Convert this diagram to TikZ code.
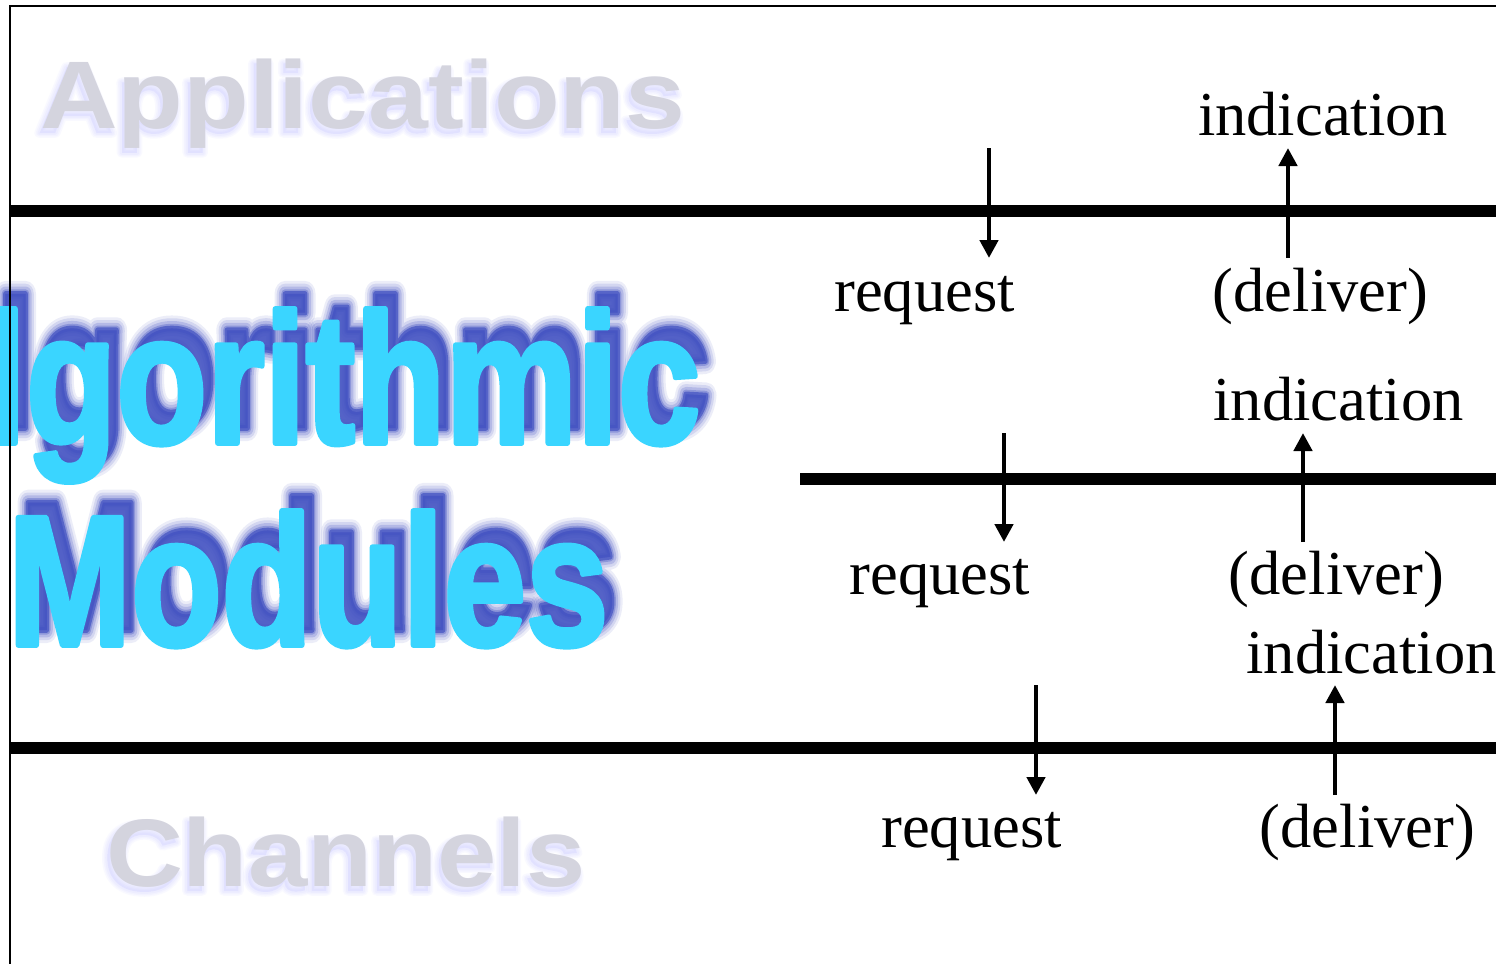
\documentclass[tikz,border=0pt]{standalone}
\usepackage{fontspec}
\setmainfont{Liberation Serif}
% layer captions and their soft halo
\newfontfamily\labelfont{Liberation Sans Bold}
\newfontfamily\labelhaloA{Liberation Sans Bold}[FakeBold=4]
\newfontfamily\labelhaloB{Liberation Sans Bold}[FakeBold=7]
\newfontfamily\labelhaloC{Liberation Sans Bold}[FakeBold=10]
% heavy banner face and widened copies for the drop shadow
\newfontfamily\heavyfont{Liberation Sans Bold}[FakeBold=3]
\newfontfamily\heavyhaloA{Liberation Sans Bold}[FakeBold=5]
\newfontfamily\heavyhaloB{Liberation Sans Bold}[FakeBold=8]
\newfontfamily\heavyhaloC{Liberation Sans Bold}[FakeBold=11]
\newfontfamily\heavyhaloD{Liberation Sans Bold}[FakeBold=14]
\usetikzlibrary{arrows.meta}

\definecolor{skycyan}{RGB}{58,213,255}
\definecolor{shadowblue}{RGB}{70,85,195}
\definecolor{mistgray}{RGB}{212,212,222}
\definecolor{mistglow}{RGB}{205,205,255}

\tikzset{
  word/.style={inner sep=0pt, outer sep=0pt, anchor=base west, line join=round},
  layerline/.style={line width=6pt},
  framestroke/.style={line width=1.3pt},
  callarrow/.style={line width=2.3pt, -{Triangle[width=9pt,length=9pt]}},
  prim/.style={font=\fontsize{31.25}{36}\selectfont, inner sep=0pt, anchor=base},
  captionsize/.style={font=#1\fontsize{48}{56}\selectfont},
  ghost/.style={word, captionsize=\labelfont, text=mistgray},
  ghosthalo/.style 2 args={word, captionsize=#1, text=mistglow, opacity=#2},
  bannersize/.style={font=#1\fontsize{92.5}{100}\selectfont},
  banner/.style={word, bannersize=\heavyfont, text=skycyan},
  bannershade/.style 2 args={word, bannersize=#1, text=shadowblue, opacity=#2},
}

\begin{document}
\begin{tikzpicture}[x=0.5pt,y=-0.5pt]
  \clip (0,0) rectangle (1496,964);
  \fill[white] (0,0) rectangle (1496,964);

  % ---- faded layer names ----
  \node[ghosthalo={\labelhaloC}{0.10}] (appsC) at (37,133) {\scalebox{1.12}[1]{Applications}};
  \node[ghosthalo={\labelhaloB}{0.12}] (appsB) at (37,133) {\scalebox{1.12}[1]{Applications}};
  \node[ghosthalo={\labelhaloA}{0.15}] (appsA) at (37,133) {\scalebox{1.12}[1]{Applications}};
  \node[ghost] (apps) at (40,128) {\scalebox{1.12}[1]{Applications}};

  \node[ghosthalo={\labelhaloC}{0.10}] (chansC) at (103,891) {\scalebox{1.11}[1]{Channels}};
  \node[ghosthalo={\labelhaloB}{0.12}] (chansB) at (103,891) {\scalebox{1.11}[1]{Channels}};
  \node[ghosthalo={\labelhaloA}{0.15}] (chansA) at (103,891) {\scalebox{1.11}[1]{Channels}};
  \node[ghost] (chans) at (106,886) {\scalebox{1.11}[1]{Channels}};

  % ---- module banner with dark blue drop shadow ----
  \node[bannershade={\heavyhaloD}{0.10}] (algD)  at (-5,428) {\scalebox{0.8}[1]{lgorithmic}};
  \node[bannershade={\heavyhaloC}{0.15}] (algC)  at (-5,428) {\scalebox{0.8}[1]{lgorithmic}};
  \node[bannershade={\heavyhaloB}{0.22}] (algB)  at (-5,428) {\scalebox{0.8}[1]{lgorithmic}};
  \node[bannershade={\heavyhaloA}{0.35}] (algA)  at (-5,428) {\scalebox{0.8}[1]{lgorithmic}};
  \node[bannershade={\heavyfont}{0.75}]  (algsh) at (-5,428) {\scalebox{0.8}[1]{lgorithmic}};
  \node[banner] (alg) at (-15,443) {\scalebox{0.8}[1]{lgorithmic}};

  \node[bannershade={\heavyhaloD}{0.10}] (modD)  at (18,630) {\scalebox{0.8}[1]{Modules}};
  \node[bannershade={\heavyhaloC}{0.15}] (modC)  at (18,630) {\scalebox{0.8}[1]{Modules}};
  \node[bannershade={\heavyhaloB}{0.22}] (modB)  at (18,630) {\scalebox{0.8}[1]{Modules}};
  \node[bannershade={\heavyhaloA}{0.35}] (modA)  at (18,630) {\scalebox{0.8}[1]{Modules}};
  \node[bannershade={\heavyfont}{0.75}]  (modsh) at (18,630) {\scalebox{0.8}[1]{Modules}};
  \node[banner] (mods) at (8,645) {\scalebox{0.8}[1]{Modules}};

  % ---- frame and layer boundaries ----
  \coordinate (frameTR) at (1496,6);
  \coordinate (frameTL) at (10,6);
  \coordinate (frameBL) at (10,964);
  \draw[framestroke] (frameTR) -- (frameTL) -- (frameBL);

  \coordinate (upperL) at (10,211);   \coordinate (upperR) at (1496,211);
  \coordinate (midL)   at (800,479);  \coordinate (midR)   at (1496,479);
  \coordinate (lowerL) at (10,748);   \coordinate (lowerR) at (1496,748);
  \draw[layerline] (upperL) -- (upperR);
  \draw[layerline] (midL) -- (midR);
  \draw[layerline] (lowerL) -- (lowerR);

  % ---- interface events: upper boundary ----
  \node[prim] (ind1) at (1323,135) {indication};
  \node[prim] (req1) at (924.5,311) {request};
  \node[prim] (del1) at (1320.5,311) {(deliver)};
  \coordinate (req1a) at (989,148);  \coordinate (req1b) at (989,258);
  \coordinate (ind1a) at (1288,258); \coordinate (ind1b) at (1288,148);
  \draw[callarrow] (req1a) -- (req1b);
  \draw[callarrow] (ind1a) -- (ind1b);

  % ---- interface events: middle boundary ----
  \node[prim] (ind2) at (1338.5,420) {indication};
  \node[prim] (req2) at (940,594) {request};
  \node[prim] (del2) at (1336.5,594) {(deliver)};
  \coordinate (req2a) at (1004,433); \coordinate (req2b) at (1004,542);
  \coordinate (ind2a) at (1303,542); \coordinate (ind2b) at (1303,433);
  \draw[callarrow] (req2a) -- (req2b);
  \draw[callarrow] (ind2a) -- (ind2b);

  % ---- interface events: lower boundary ----
  \node[prim] (ind3) at (1371.5,673) {indication};
  \node[prim] (req3) at (971.5,847) {request};
  \node[prim] (del3) at (1367.5,847) {(deliver)};
  \coordinate (req3a) at (1036,685); \coordinate (req3b) at (1036,795);
  \coordinate (ind3a) at (1335,795); \coordinate (ind3b) at (1335,685);
  \draw[callarrow] (req3a) -- (req3b);
  \draw[callarrow] (ind3a) -- (ind3b);
\end{tikzpicture}
\end{document}
